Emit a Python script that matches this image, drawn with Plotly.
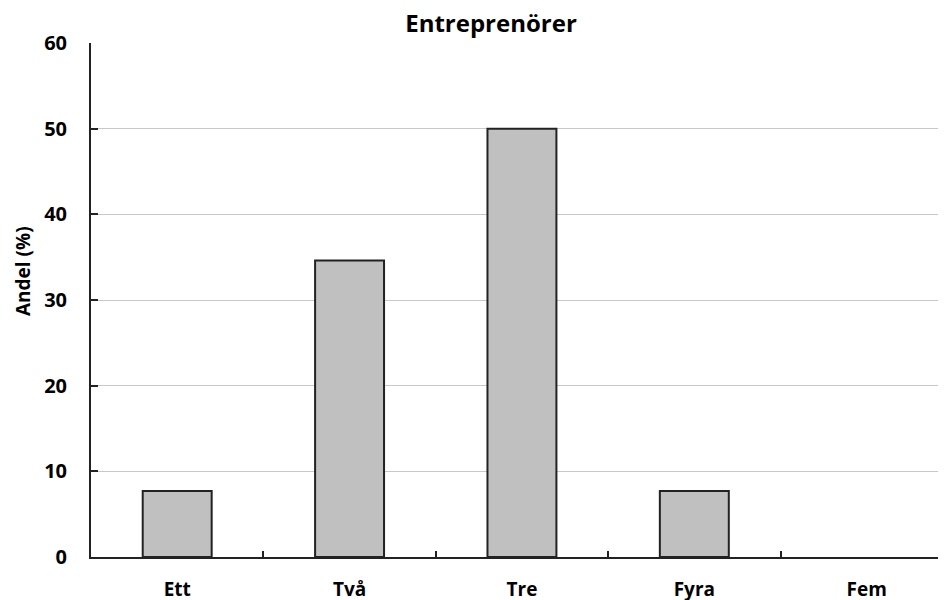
import plotly.graph_objects as go

categories = ["Ett", "Två", "Tre", "Fyra", "Fem"]
values = [7.7, 34.6, 50.0, 7.7, 0.0]
y_ticks = [0, 10, 20, 30, 40, 50, 60]

FONT = "Open Sans"
W, H = 946, 600  # page body has an 8px margin, so the figure is offset by 8px
L, R, T, B = 83, 8, 35, 51

fig = go.Figure()
fig.add_trace(go.Bar(
    x=categories, y=values, width=0.4,
    marker=dict(color="#c0c0c0",
                line=dict(color="#222222", width=[2 if v > 0 else 0 for v in values])),
))

fig.update_layout(
    width=W, height=H,
    margin=dict(l=L, r=R, t=T, b=B),
    paper_bgcolor="white", plot_bgcolor="white",
    showlegend=False,
    title=dict(text="Entreprenörer", x=483/W, xanchor="center",
               y=1 - 16/H, yanchor="middle",
               font=dict(family=FONT, size=24, color="black", weight="bold")),
    font=dict(family=FONT, color="black"),
)
plot_w = W - L - R
plot_h = H - T - B
fig.add_annotation(
    text="Andel (%)", textangle=-90, showarrow=False,
    xref="paper", yref="paper",
    x=(15 - L) / plot_w, y=(H - B - 263) / plot_h,
    xanchor="center", yanchor="middle",
    font=dict(family=FONT, size=19, color="black", weight="bold"),
)
fig.update_xaxes(
    range=[-0.5, 4.46], showline=True, linecolor="#222222", linewidth=2,
    ticks="inside", tickson="boundaries", ticklen=6, tickcolor="#222222", tickwidth=2,
    tickfont=dict(family=FONT, size=19, color="black", weight="bold"),
    showgrid=False, zeroline=False, ticklabelstandoff=14, automargin=False,
)
fig.update_yaxes(
    range=[0, 60], tickvals=y_ticks, showline=True, linecolor="#222222", linewidth=2,
    ticks="inside", ticklen=7, tickcolor="#222222", tickwidth=2,
    tickfont=dict(family=FONT, size=20, color="black", weight="bold"),
    showgrid=True, gridcolor="#c8c8c8", gridwidth=1, zeroline=False,
    ticklabelstandoff=18, automargin=False,
)

fig.write_html("out.html")
